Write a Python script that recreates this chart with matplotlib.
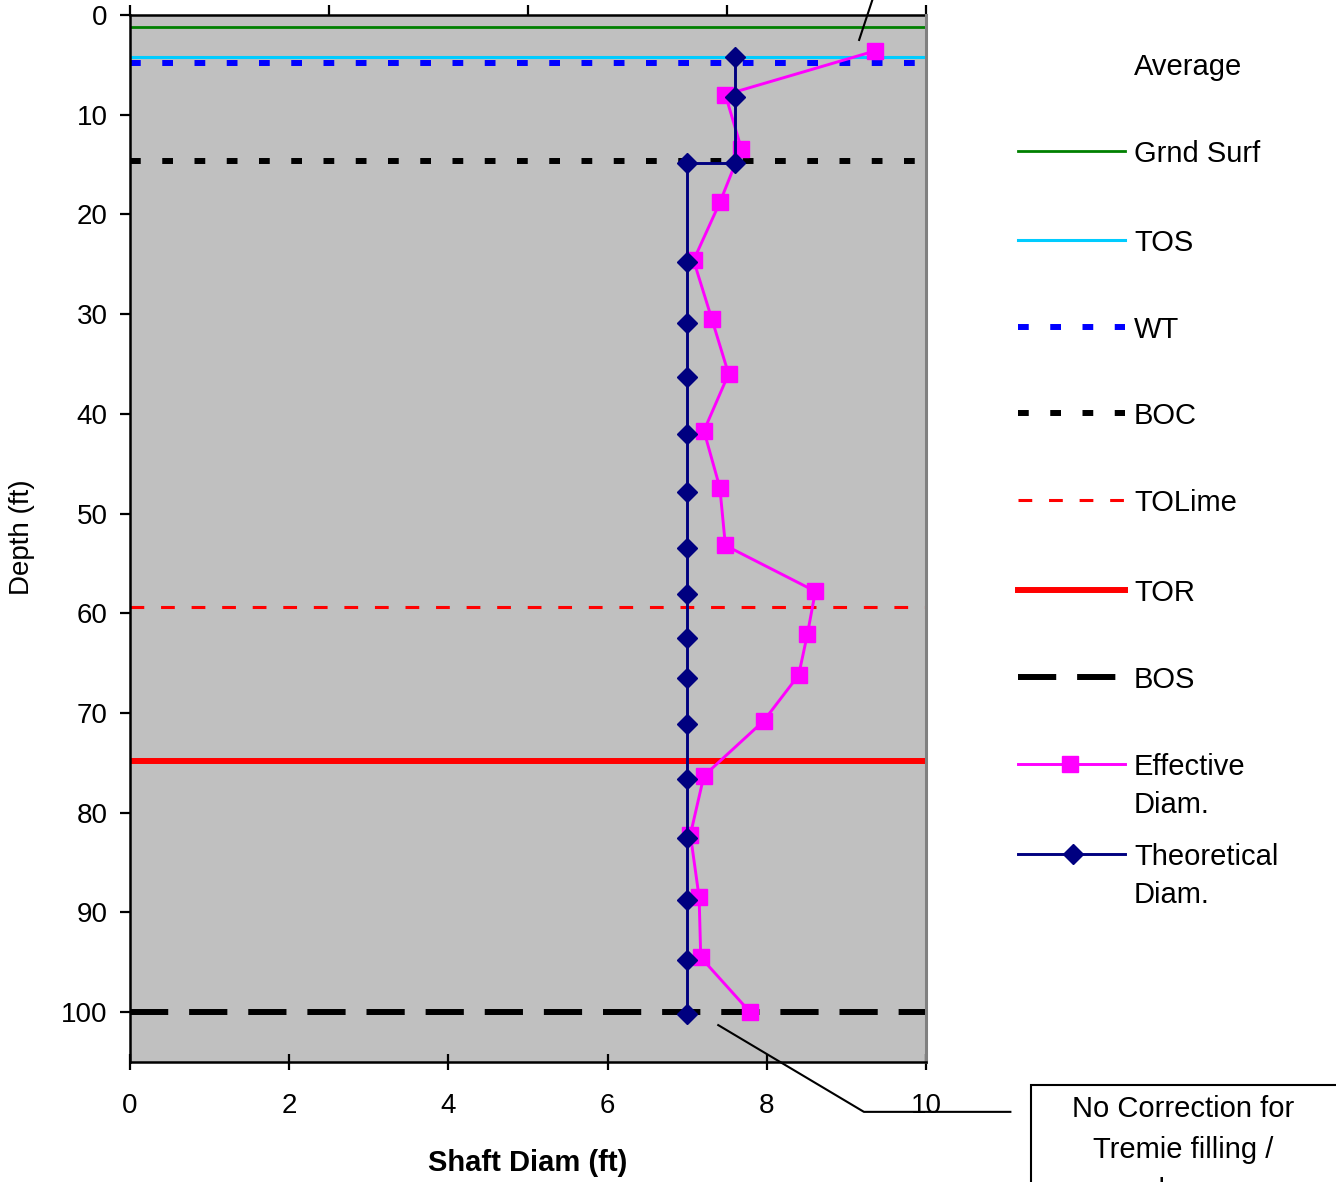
import matplotlib
matplotlib.use('Agg')
import matplotlib.pyplot as plt
from matplotlib.lines import Line2D
from matplotlib.patches import Rectangle

plt.rcParams['font.family'] = ['Liberation Sans', 'DejaVu Sans']

# reference levels (depth, ft)
ref_names = ['Grnd Surf', 'TOS', 'WT', 'BOC', 'TOLime', 'TOR', 'BOS']
ref_depths = [1.2, 4.2, 4.8, 14.6, 59.4, 74.8, 100.0]

# effective diameter from caliper
eff_depth = [3.6, 8.0, 13.4, 18.8, 24.6, 30.5, 36.0, 41.7, 47.4, 53.2,
             57.8, 62.1, 66.2, 70.8, 76.3, 82.2, 88.5, 94.5, 100.0]
eff_diam = [9.36, 7.48, 7.68, 7.41, 7.08, 7.31, 7.52, 7.21, 7.41, 7.48,
            8.61, 8.51, 8.40, 7.96, 7.21, 7.04, 7.15, 7.17, 7.79]

# theoretical diameter
theo_depth = [4.2, 8.2, 14.8, 14.8, 24.8, 30.9, 36.3, 42.0, 47.8, 53.5,
              58.1, 62.5, 66.5, 71.1, 76.6, 82.5, 88.8, 94.8, 100.2]
theo_diam = [7.6, 7.6, 7.6, 7.0, 7.0, 7.0, 7.0, 7.0, 7.0, 7.0,
             7.0, 7.0, 7.0, 7.0, 7.0, 7.0, 7.0, 7.0, 7.0]

xticks = [0, 2, 4, 6, 8, 10]
yticks = list(range(0, 101, 10))

styles = {
    'Grnd Surf': dict(color='#008000', lw=2.0, ls='-'),
    'TOS': dict(color='#00CCFF', lw=2.2, ls='-'),
    'WT': dict(color='#0000FF', lw=4.3, ls=(0, (1.8, 3.6))),
    'BOC': dict(color='black', lw=4.3, ls=(0, (1.8, 3.6))),
    'TOLime': dict(color='#FF0000', lw=2.2, ls=(0, (4.5, 5.5))),
    'TOR': dict(color='#FF0000', lw=4.3, ls='-'),
    'BOS': dict(color='black', lw=4.3, ls=(0, (6.4, 3.5))),
}
eff_style = dict(color='#FF00FF', lw=2.1, marker='s', markersize=11.5,
                 markerfacecolor='#FF00FF', markeredgecolor='#FF00FF')
theo_style = dict(color='#000080', lw=2.1, marker='D', markersize=10,
                  markerfacecolor='#000080', markeredgecolor='#000080')

W, H = 1336, 1182
fig = plt.figure(figsize=(W / 100, H / 100), dpi=100)
ax = fig.add_axes([130 / W, 1 - 1062 / H, 796 / W, 1047 / H])
ax.set_facecolor('#C0C0C0')

for name, d in zip(ref_names, ref_depths):
    ax.axhline(d, **styles[name])

ax.plot(eff_diam, eff_depth, **eff_style)
ax.plot(theo_diam, theo_depth, **theo_style)

ax.set_xlim(0, 10)
ax.set_ylim(105, 0)
ax.set_xticks(xticks)
ax.set_yticks(yticks)
ax.tick_params(axis='x', direction='inout', length=11, width=1.6,
               pad=17, labelsize=20)
ax.tick_params(axis='y', direction='out', length=7, width=1.6,
               pad=9, labelsize=20)

for s in ['left', 'bottom']:
    ax.spines[s].set_linewidth(1.8)
ax.spines['right'].set_color('#808080')
ax.spines['right'].set_linewidth(2.2)
ax.spines['top'].set_visible(False)

top = ax.secondary_xaxis('top')
top.set_xticks([0, 2.5, 5, 7.5, 10])
top.tick_params(direction='out', length=7, width=1.6, labeltop=False)
top.spines['top'].set_linewidth(1.8)

fig.text(528 / W, 1 - 1163 / H, 'Shaft Diam (ft)', fontsize=21,
         fontweight='bold', ha='center', va='center')
fig.text(22 / W, 1 - 537 / H, 'Depth (ft)', fontsize=20, rotation=90,
         ha='center', va='center')

# leader lines for the callouts
ax.plot([9.16, 9.33], [2.5, -1.6], color='black', lw=1.5, clip_on=False)
ax.plot([7.39, 9.22, 11.06], [101.3, 110.0, 110.0], color='black', lw=1.5,
        clip_on=False)

# callout box, runs off the page
fig.patches.append(Rectangle((1031 / W, -0.05), 330 / W, 0.05 + 1 - 1085 / H,
                             transform=fig.transFigure, facecolor='white',
                             edgecolor='black', lw=1.5))
for txt, yy in zip(['No Correction for', 'Tremie filling /', 'slump'],
                   [1109, 1150, 1191]):
    fig.text(1183 / W, 1 - yy / H, txt, fontsize=21, ha='center', va='center')

# legend
x0, x1, xt = 1018 / W, 1125 / W, 1134 / W
dy = 3 / H
fig.text(xt, 1 - 64 / H - dy, 'Average', fontsize=21, va='center')
rows = [151, 240, 327, 413, 500, 590, 677]
for name, yy in zip(ref_names, rows):
    fy = 1 - yy / H
    fig.add_artist(Line2D([x0, x1], [fy, fy], transform=fig.transFigure,
                          **styles[name]))
    fig.text(xt, fy - dy, name, fontsize=21, va='center')

for lab, yy, st, mx in [('Effective', 764, eff_style, 1070),
                        ('Theoretical', 854, theo_style, 1073)]:
    fy = 1 - yy / H
    line_st = {k: v for k, v in st.items() if not k.startswith('marker')}
    fig.add_artist(Line2D([x0, x1], [fy, fy], transform=fig.transFigure,
                          **line_st))
    fig.add_artist(Line2D([mx / W], [fy], transform=fig.transFigure,
                          ls='none', marker=st['marker'],
                          markersize=st['markersize'],
                          markerfacecolor=st['markerfacecolor'],
                          markeredgecolor=st['markeredgecolor']))
    fig.text(xt, fy - dy, lab, fontsize=21, va='center')
    fig.text(xt, fy - dy - 38 / H, 'Diam.', fontsize=21, va='center')

fig.savefig('out.png', dpi=100)
